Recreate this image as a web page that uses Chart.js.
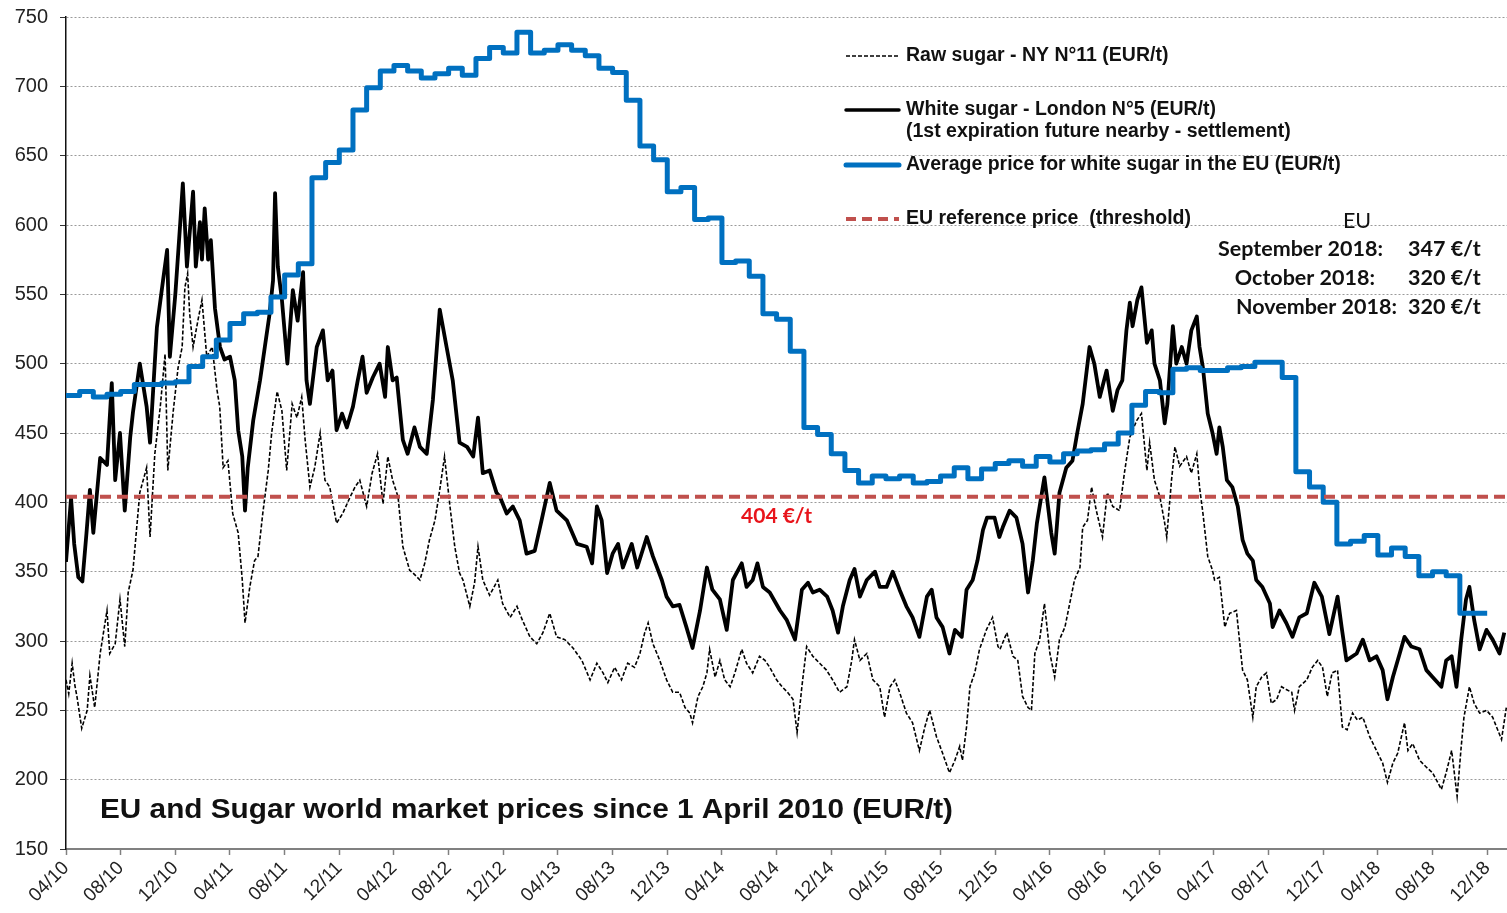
<!DOCTYPE html>
<html>
<head>
<meta charset="utf-8">
<title>EU and Sugar world market prices</title>
<script src="https://cdn.jsdelivr.net/npm/chart.js@4"></script>
<style>
  html, body { margin: 0; padding: 0; background: #fff; }
  #wrap { width: 1507px; height: 913px; }
</style>
</head>
<body>
<div id="wrap"><canvas id="sugarChart" width="1507" height="913"></canvas></div>
<script>
// months counted from 1 April 2010
const tickLabels = ['04/10','08/10','12/10','04/11','08/11','12/11','04/12','08/12','12/12','04/13','08/13','12/13',
  '04/14','08/14','12/14','04/15','08/15','12/15','04/16','08/16','12/16','04/17','08/17','12/17','04/18','08/18','12/18'];
const xMax = 105.45;

// EU average white sugar price, one value per month (Apr 2010 .. Nov 2018)
const euAverage = [477,480,476,478,480,485,485,486,487,498,505,517,
  529,536,537,548,564,572,634,645,654,683,699,711,
  715,711,706,709,713,708,720,728,724,739,724,726,
  730,726,722,713,710,690,657,647,624,627,604,605,
  573,574,563,536,532,509,454,449,435,423,414,419,
  417,419,414,415,419,425,417,424,428,430,426,433,
  429,435,437,438,442,450,470,480,479,496,497,495,
  495,497,498,501,501,490,422,411,400,370,372,376,
  362,367,361,347,350,347,320,320];

const refPrice = 404;

// [month, EUR/t]
const whiteSugar = [[0,357],[0.37,403],[0.6,370],[0.9,346],[1.2,343],[1.5,378],[1.75,409],[2.0,378],[2.5,432],[3.0,427],
  [3.35,486],[3.6,416],[3.95,450],[4.3,394],[4.7,447],[4.9,465],[5.4,500],[5.9,469],[6.15,443],[6.65,526],
  [7.1,560],[7.4,582],[7.6,505],[8.0,550],[8.35,600],[8.55,630],[8.85,570],[9.3,624],[9.5,570],[9.8,602],
  [9.95,575],[10.15,612],[10.4,575],[10.6,589],[10.9,540],[11.27,512],[11.6,503],[12.0,505],[12.35,488],[12.6,452],
  [12.9,433],[13.1,394],[13.3,425],[13.7,459],[14.2,488],[14.55,512],[14.9,536],[15.15,560],[15.3,623],[15.5,570],
  [15.8,546],[16.2,500],[16.6,553],[16.95,531],[17.35,566],[17.6,488],[17.85,471],[18.35,512],[18.8,524],[19.15,488],
  [19.5,495],[19.8,452],[20.2,464],[20.55,454],[21.0,469],[21.35,488],[21.7,505],[22.0,479],[22.45,490],[22.95,500],
  [23.35,476],[23.55,512],[23.9,488],[24.2,490],[24.65,445],[25.0,435],[25.5,454],[25.9,440],[26.4,435],[26.85,474],
  [27.35,539],[27.85,512],[28.3,488],[28.8,443],[29.35,440],[29.8,433],[30.15,461],[30.5,421],[31.0,423],[31.5,407],
  [31.75,404],[32.25,392],[32.7,397],[33.2,387],[33.7,363],[34.3,365],[34.8,387],[35.4,414],[35.9,394],[36.65,387],
  [37.4,370],[38.1,368],[38.5,356],[38.85,397],[39.2,387],[39.6,349],[40.0,363],[40.4,370],[40.75,353],[41.4,370],
  [41.8,353],[42.5,375],[42.95,361],[43.6,344],[43.95,332],[44.4,325],[44.9,326],[45.4,310],[45.85,295],[46.4,322],
  [46.9,353],[47.3,337],[47.85,330],[48.35,308],[48.8,344],[49.45,356],[49.8,339],[50.25,344],[50.6,356],[51.0,339],
  [51.5,335],[52.25,322],[52.75,315],[53.35,301],[53.85,337],[54.3,342],[54.65,335],[55.15,337],[55.7,332],[56.1,322],
  [56.5,306],[56.85,325],[57.35,344],[57.7,352],[58.1,332],[58.6,344],[59.2,350],[59.55,339],[60.05,339],[60.5,350],
  [61.0,337],[61.5,325],[61.95,317],[62.45,303],[63.0,332],[63.35,337],[63.7,317],[64.15,310],[64.65,291],[65.05,308],
  [65.55,303],[65.9,337],[66.35,344],[66.7,358],[67.1,380],[67.4,389],[67.95,389],[68.3,375],[68.55,382],[69.05,394],
  [69.55,389],[70.0,370],[70.4,335],[70.75,358],[71.05,385],[71.6,418],[72.1,378],[72.35,363],[72.7,407],[73.2,425],
  [73.65,430],[74.0,450],[74.4,471],[74.9,512],[75.25,500],[75.65,476],[76.15,495],[76.6,466],[76.95,481],[77.3,488],
  [77.6,524],[77.85,544],[78.05,527],[78.4,546],[78.7,555],[79.1,515],[79.45,524],[79.65,500],[80.05,488],[80.4,457],
  [80.6,471],[81.0,527],[81.25,500],[81.65,512],[82.0,500],[82.35,524],[82.75,534],[82.95,512],[83.2,497],[83.55,464],
  [83.9,450],[84.2,435],[84.4,454],[84.65,440],[84.95,416],[85.35,411],[85.75,397],[86.1,373],[86.45,363],[86.85,358],
  [87.1,344],[87.55,339],[88.1,327],[88.3,310],[88.8,322],[89.3,313],[89.75,303],[90.25,317],[90.8,320],[91.35,342],
  [91.9,332],[92.45,305],[93.05,332],[93.35,310],[93.7,286],[94.45,291],[94.9,301],[95.4,286],[95.9,289],[96.35,279],
  [96.7,258],[97.1,274],[97.6,291],[97.95,303],[98.45,296],[99.05,294],[99.55,279],[100.0,274],[100.65,267],[101.0,286],
  [101.4,289],[101.75,267],[102.1,301],[102.45,330],[102.7,339],[103.05,315],[103.45,294],[103.95,308],[104.4,301],[104.9,291],
  [105.25,306]];

const rawSugar = [[0,272],[0.2,262],[0.45,284],[0.65,268],[0.8,260],[1.15,237],[1.55,250],[1.75,275],[2.1,252],[2.5,291],
  [3.0,322],[3.2,291],[3.6,298],[3.95,330],[4.3,296],[4.55,335],[4.9,351],[5.4,407],[5.9,425],[6.15,375],
  [6.5,435],[6.9,469],[7.25,507],[7.45,423],[7.85,466],[8.2,497],[8.5,512],[8.7,555],[8.9,565],[9.05,536],
  [9.3,512],[9.65,531],[9.95,546],[10.3,505],[10.7,512],[11.05,481],[11.25,469],[11.5,425],[11.85,430],[12.2,392],
  [12.6,378],[12.9,344],[13.1,313],[13.45,339],[13.8,358],[14.05,361],[14.4,392],[14.8,423],[15.05,450],[15.45,480],
  [15.8,466],[16.15,423],[16.55,471],[16.9,461],[17.25,476],[17.5,445],[17.85,411],[18.2,425],[18.6,450],[18.95,416],
  [19.3,411],[19.8,385],[20.25,392],[20.8,404],[21.15,411],[21.5,416],[22.0,397],[22.4,421],[22.8,435],[23.2,399],
  [23.55,433],[23.9,416],[24.3,404],[24.65,368],[25.15,351],[25.4,349],[25.9,344],[26.25,356],[26.6,373],[27.0,387],
  [27.35,409],[27.7,433],[28.1,397],[28.45,368],[28.8,349],[29.05,344],[29.55,325],[29.9,342],[30.15,368],[30.5,344],
  [31.0,333],[31.6,344],[31.95,327],[32.5,317],[33.0,325],[33.4,315],[33.95,303],[34.45,298],[34.9,306],[35.4,320],
  [35.9,303],[36.5,301],[37.1,295],[37.75,286],[38.35,272],[38.85,284],[39.3,277],[39.65,270],[40.15,281],[40.65,272],
  [41.1,284],[41.6,281],[42.0,291],[42.35,306],[42.6,313],[42.95,298],[43.45,286],[43.95,272],[44.4,263],[44.9,263],
  [45.3,252],[45.65,248],[45.85,241],[46.25,260],[46.6,267],[46.9,277],[47.1,294],[47.5,274],[47.85,286],[48.2,272],
  [48.6,267],[48.95,277],[49.45,294],[49.8,284],[50.25,277],[50.75,289],[51.15,286],[51.5,281],[52.0,272],[52.4,267],
  [52.8,263],[53.2,258],[53.5,234],[53.85,267],[54.2,296],[54.65,289],[55.15,284],[55.65,279],[56.1,272],[56.6,263],
  [57.15,267],[57.5,286],[57.7,301],[58.1,286],[58.6,291],[59.05,272],[59.55,267],[59.9,245],[60.3,267],[60.65,272],
  [61.0,263],[61.5,248],[61.95,241],[62.45,221],[62.85,238],[63.2,250],[63.7,231],[64.15,219],[64.65,205],[65.05,214],
  [65.4,224],[65.6,214],[65.9,238],[66.15,267],[66.5,277],[66.85,294],[67.35,308],[67.8,317],[68.2,296],[68.35,294],
  [68.85,306],[69.3,289],[69.65,286],[70.0,260],[70.4,252],[70.65,250],[70.9,291],[71.25,301],[71.6,327],[72.0,291],
  [72.35,274],[72.7,301],[73.1,310],[73.45,327],[73.8,344],[74.2,353],[74.4,382],[74.75,387],[75.05,411],[75.4,394],
  [75.85,375],[76.2,407],[76.6,397],[77.1,394],[77.45,421],[77.85,447],[78.35,459],[78.7,464],[79.1,423],[79.3,443],
  [79.65,416],[80.05,404],[80.4,385],[80.55,375],[80.9,416],[81.15,440],[81.5,426],[82.0,433],[82.35,421],[82.75,435],
  [82.95,411],[83.2,392],[83.55,361],[83.9,351],[84.05,344],[84.4,346],[84.8,310],[85.15,320],[85.65,322],[85.9,298],
  [86.1,279],[86.45,272],[86.85,245],[87.1,267],[87.5,274],[87.85,277],[88.2,255],[88.6,258],[88.95,267],[89.3,265],
  [89.7,263],[89.9,250],[90.25,267],[90.8,272],[91.2,281],[91.6,286],[91.95,281],[92.3,260],[92.65,277],[93.05,279],
  [93.4,238],[93.75,236],[94.15,248],[94.5,243],[94.9,245],[95.4,231],[95.9,221],[96.35,212],[96.7,198],[97.1,212],
  [97.45,219],[97.95,241],[98.2,221],[98.55,226],[99.05,214],[99.55,209],[100.0,205],[100.65,193],[101.0,205],[101.4,221],
  [101.8,188],[102.1,224],[102.3,245],[102.7,267],[103.05,255],[103.45,248],[103.95,250],[104.4,245],[105.05,229],[105.4,252]];

const legendLabels = [
  ['Raw sugar - NY N°11 (EUR/t)'],
  ['White sugar - London N°5 (EUR/t)', '(1st expiration future nearby - settlement)'],
  ['Average price for white sugar in the EU (EUR/t)'],
  ['EU reference price  (threshold)']
];
const euBoxTitle = 'EU';
const euBoxMonths = ['September 2018:', 'October 2018:', 'November 2018:'];
const euBoxValues = ['347 €/t', '320 €/t', '320 €/t'];
const refLabel = '404 €/t';
const chartTitle = 'EU and Sugar world market prices since 1 April 2010 (EUR/t)';

// build points
const euPoints = euAverage.map((v, k) => ({ x: k, y: v }));
euPoints.push({ x: euAverage.length, y: euAverage[euAverage.length - 1] });
const whitePoints = whiteSugar.map(p => ({ x: p[0], y: p[1] }));
const rawPoints = rawSugar.map(p => ({ x: p[0], y: p[1] }));
const refPoints = [{ x: 0, y: refPrice }, { x: xMax, y: refPrice }];

const ARIAL = "'Liberation Sans', Arial, sans-serif";
const CALIBRI = "Lato, 'Open Sans', sans-serif";

const textPlugin = {
  id: 'sugarText',
  afterDraw(chart) {
    const ctx = chart.ctx;
    const xs = chart.scales.x, ys = chart.scales.y;
    ctx.save();

    // legend samples + texts
    const rows = [
      { y: 56, color: '#000', width: 1.5, dash: [4, 2] },
      { y: 110, color: '#000', width: 3.5, dash: [] },
      { y: 165, color: '#0070C0', width: 5, dash: [] },
      { y: 219, color: '#C0504D', width: 4, dash: [10, 6] }
    ];
    rows.forEach((r, i) => {
      ctx.beginPath();
      ctx.setLineDash(r.dash);
      ctx.lineWidth = r.width;
      ctx.strokeStyle = r.color;
      ctx.lineCap = r.dash.length ? 'butt' : 'round';
      ctx.moveTo(846, r.y);
      ctx.lineTo(899, r.y);
      ctx.stroke();
      ctx.setLineDash([]);
      ctx.fillStyle = '#111';
      ctx.font = 'bold 19.5px ' + ARIAL;
      ctx.textAlign = 'left';
      ctx.textBaseline = 'middle';
      legendLabels[i].forEach((t, j) => ctx.fillText(t, 906, r.y + j * 22));
    });

    // EU box
    ctx.fillStyle = '#111';
    ctx.textAlign = 'center';
    ctx.font = '21.5px ' + CALIBRI;
    ctx.fillText(euBoxTitle, 1357, 221);
    ctx.font = 'bold 21.5px ' + CALIBRI;
    const rightEdges = [1383, 1375, 1397];
    euBoxMonths.forEach((m, i) => {
      const yy = 249 + i * 29;
      ctx.textAlign = 'right';
      ctx.fillText(m, rightEdges[i], yy);
      ctx.textAlign = 'left';
      ctx.fillText(euBoxValues[i], 1408, yy);
    });

    // reference label
    ctx.fillStyle = '#E8141B';
    ctx.textAlign = 'center';
    ctx.font = 'bold 21px ' + CALIBRI;
    ctx.fillText(refLabel, xs.getPixelForValue(52), ys.getPixelForValue(refPrice) + 19);

    // title inside plot, stretched a little like the original text box
    ctx.fillStyle = '#111';
    ctx.textAlign = 'left';
    ctx.font = 'bold 27px ' + ARIAL;
    const w = ctx.measureText(chartTitle).width;
    ctx.translate(100, 811);
    ctx.scale(853 / w, 1);
    ctx.fillText(chartTitle, 0, 0);

    ctx.restore();
  }
};

new Chart(document.getElementById('sugarChart'), {
  type: 'line',
  data: {
    datasets: [
      { label: 'EU reference price (threshold)', data: refPoints, borderColor: '#C0504D', borderWidth: 4, borderDash: [11, 6] },
      { label: 'Average price for white sugar in the EU (EUR/t)', data: euPoints, borderColor: '#0070C0', borderWidth: 5, stepped: true, borderJoinStyle: 'round' },
      { label: 'White sugar - London N°5 (EUR/t)', data: whitePoints, borderColor: '#000', borderWidth: 3.8, borderJoinStyle: 'round' },
      { label: 'Raw sugar - NY N°11 (EUR/t)', data: rawPoints, borderColor: '#000', borderWidth: 1.6, borderDash: [4, 2] }
    ]
  },
  options: {
    responsive: false,
    animation: false,
    devicePixelRatio: 1,
    layout: { padding: { top: 17, right: 0, left: 0, bottom: 0 } },
    plugins: { legend: { display: false }, tooltip: { enabled: false } },
    elements: { point: { radius: 0 }, line: { tension: 0, fill: false } },
    scales: {
      x: {
        type: 'linear',
        min: 0,
        max: xMax,
        afterFit(scale) { scale.height = 64; scale.paddingRight = 0; },
        grid: { drawOnChartArea: false, drawTicks: true, tickLength: 6, tickColor: '#808080', tickWidth: 1.5 },
        border: { color: '#808080', width: 2 },
        ticks: {
          stepSize: 4,
          autoSkip: false,
          includeBounds: false,
          minRotation: 45,
          maxRotation: 45,
          padding: 2,
          color: '#222',
          font: { family: ARIAL, size: 19 },
          callback: v => tickLabels[Math.round(v / 4)]
        }
      },
      y: {
        min: 150,
        max: 750,
        afterFit(scale) { scale.width = 66; scale.paddingTop = 0; scale.paddingBottom = 0; },
        grid: { color: '#9a9a9a', lineWidth: 1, tickLength: 6, tickColor: '#333', tickWidth: 1, tickBorderDash: [] },
        border: { color: '#111', width: 1.5, dash: [2, 2] },
        ticks: { stepSize: 50, padding: 12, color: '#222', font: { family: ARIAL, size: 20 } }
      }
    }
  },
  plugins: [textPlugin]
});
</script>
</body>
</html>
